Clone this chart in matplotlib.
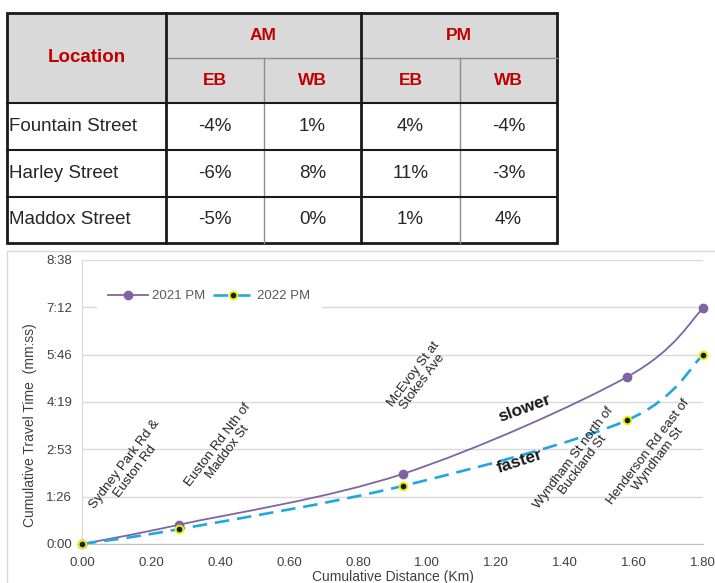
import numpy as np
import matplotlib
matplotlib.use('Agg')
import matplotlib.pyplot as plt
from matplotlib.path import Path
from matplotlib.patches import PathPatch, Rectangle
from matplotlib.lines import Line2D
from matplotlib.ticker import FuncFormatter, MultipleLocator

plt.rcParams['font.family'] = ['Liberation Sans', 'DejaVu Sans']

# table data
locations = ['Fountain Street', 'Harley Street', 'Maddox Street']
periods = ['AM', 'PM']
directions = ['EB', 'WB']
am_eb = [-4, -6, -5]
am_wb = [1, 8, 0]
pm_eb = [4, 11, 1]
pm_wb = [-4, -3, 4]

# chart data (distance in km, cumulative time in seconds)
distance_2021 = [0.00, 0.28, 0.93, 1.58, 1.80]
time_2021 = [0, 35, 128, 305, 430]
distance_2022 = [0.00, 0.28, 0.93, 1.58, 1.80]
time_2022 = [0, 27, 106, 226, 345]
stations = ['Sydney Park Rd &\nEuston Rd', 'Euston Rd Nth of\nMaddox St',
            'McEvoy St at\nStokes Ave', 'Wyndham St north of\nBuckland St',
            'Henderson Rd east of\nWyndham St']

RED = '#C00000'
PURPLE = '#8064A2'
BLUE = '#1FA7DF'


def smooth_path(xs, ys):
    # catmull-rom style bezier through the points, like Excel's smoothed line
    pts = np.column_stack([xs, ys]).astype(float)
    n = len(pts)
    verts = [pts[0]]
    codes = [Path.MOVETO]
    for i in range(n - 1):
        p0 = pts[max(i - 1, 0)]
        p1 = pts[i]
        p2 = pts[i + 1]
        p3 = pts[min(i + 2, n - 1)]
        verts += [p1 + (p2 - p0) / 6, p2 - (p3 - p1) / 6, p2]
        codes += [Path.CURVE4] * 3
    return Path(verts, codes)


def mmss(v, pos):
    s = int(round(v))
    return f'{s // 60}:{s % 60:02d}'


fig = plt.figure(figsize=(7.15, 5.83), dpi=100)

# ---- table, drawn in pixel space ----
tax = fig.add_axes([0, 0, 1, 1])
tax.set_xlim(0, 715)
tax.set_ylim(583, 0)
tax.axis('off')

cols = [7, 166, 264, 361, 460, 557]
rows = [13, 58, 103, 150, 197, 243]

tax.add_patch(Rectangle((cols[0], rows[0]), cols[-1] - cols[0], rows[2] - rows[0],
                        facecolor='#D9D9D9', edgecolor='none'))

# thin grey lines
tax.plot([cols[1], cols[-1]], [rows[1], rows[1]], color='#8C8C8C', lw=1)
for c in (cols[2], cols[4]):
    tax.plot([c, c], [rows[1], rows[-1]], color='#8C8C8C', lw=1)
# dark lines
for r in rows[2:-1]:
    tax.plot([cols[0], cols[-1]], [r, r], color='#1A1A1A', lw=1.5)
for c in (cols[1], cols[3]):
    tax.plot([c, c], [rows[0], rows[-1]], color='#1A1A1A', lw=2)
tax.add_patch(Rectangle((cols[0], rows[0]), cols[-1] - cols[0], rows[-1] - rows[0],
                        facecolor='none', edgecolor='#1A1A1A', lw=2))

tax.text((cols[0] + cols[1]) / 2, (rows[0] + rows[2]) / 2, 'Location', color=RED,
         fontsize=13.5, fontweight='bold', ha='center', va='center')
for k, p in enumerate(periods):
    x0, x1 = cols[1 + 2 * k], cols[3 + 2 * k]
    tax.text((x0 + x1) / 2, (rows[0] + rows[1]) / 2, p, color=RED,
             fontsize=12.5, fontweight='bold', ha='center', va='center')
    for j, d in enumerate(directions):
        c = 1 + 2 * k + j
        tax.text((cols[c] + cols[c + 1]) / 2, (rows[1] + rows[2]) / 2, d, color=RED,
                 fontsize=12.5, fontweight='bold', ha='center', va='center')

for i, loc in enumerate(locations):
    yc = (rows[2 + i] + rows[3 + i]) / 2
    tax.text(cols[0] + 2, yc, loc, fontsize=13.5, color='#262626', ha='left', va='center')
    for c, vals in enumerate([am_eb, am_wb, pm_eb, pm_wb]):
        tax.text((cols[1 + c] + cols[2 + c]) / 2, yc, f'{vals[i]}%', fontsize=13.5,
                 color='#262626', ha='center', va='center')

# chart outer frame
tax.add_patch(Rectangle((7, 251), 720, 340, facecolor='none', edgecolor='#D9D9D9', lw=1))

# ---- chart ----
ax = fig.add_axes([82 / 715, 39 / 583, 621 / 715, 284 / 583])
ax.set_facecolor('none')
ax.set_xlim(0, 1.8)
ax.set_ylim(0, 518.4)
ax.xaxis.set_major_locator(MultipleLocator(0.2))
ax.xaxis.set_major_formatter(FuncFormatter(lambda v, p: f'{v:.2f}'))
ax.yaxis.set_major_locator(MultipleLocator(86.4))
ax.yaxis.set_major_formatter(FuncFormatter(mmss))
ax.yaxis.grid(True, color='#D9D9D9', lw=1)
ax.set_axisbelow(True)
ax.tick_params(length=0, labelsize=9.5, labelcolor='#404040')
ax.tick_params(axis='x', pad=9)
ax.tick_params(axis='y', pad=7)
for s in ('top', 'right'):
    ax.spines[s].set_visible(False)
ax.spines['left'].set_color('#D9D9D9')
ax.spines['bottom'].set_color('#BFBFBF')

ax.add_patch(PathPatch(smooth_path(distance_2021, time_2021), fill=False,
                       edgecolor=PURPLE, lw=1.3, zorder=3))
ax.add_patch(PathPatch(smooth_path(distance_2022, time_2022), fill=False,
                       edgecolor=BLUE, lw=1.9, linestyle=(0, (5.5, 3)), zorder=3))
ax.plot(distance_2021, time_2021, linestyle='none', marker='o', ms=6,
        color=PURPLE, zorder=4, clip_on=False)
ax.plot(distance_2022, time_2022, linestyle='none', marker='o', ms=5.5,
        markerfacecolor='#14202E', markeredgecolor='#F0F000', mew=1.4, zorder=5, clip_on=False)

ax.set_xlabel('Cumulative Distance (Km)', fontsize=10, color='#404040')
ax.xaxis.set_label_coords(0.5, -0.116)
ax.xaxis.label.set_va('center')
ax.set_ylabel('Cumulative Travel Time  (mm:ss)', fontsize=10, color='#404040')
ax.yaxis.set_label_coords(-0.084, 0.42)
ax.yaxis.label.set_va('center')

# station labels
label_pos = [(0.139, 139), (0.409, 175), (0.974, 303), (1.438, 150), (1.655, 162)]
for name, (lx, ly) in zip(stations, label_pos):
    ax.text(lx, ly, name, rotation=53, rotation_mode='anchor', ha='center', va='center',
            multialignment='center', fontsize=9.5, color='#262626', linespacing=1.0)

ax.text(1.284, 248, 'slower', rotation=20, rotation_mode='anchor', ha='center', va='center',
        fontsize=12.5, fontweight='bold', color='#1A1A1A')
ax.text(1.27, 150, 'faster', rotation=18, rotation_mode='anchor', ha='center', va='center',
        fontsize=12.5, fontweight='bold', color='#1A1A1A')

handles = [
    Line2D([], [], color=PURPLE, lw=1.3, marker='o', ms=6),
    Line2D([], [], color=BLUE, lw=1.9, linestyle=(0, (5.5, 3)), marker='o', ms=5.5,
           markerfacecolor='#14202E', markeredgecolor='#F0F000', mew=1.4),
]
leg = ax.legend(handles, ['2021 PM', '2022 PM'], loc='center left',
                bbox_to_anchor=((90 - 82) / 621, 0.873), ncol=2, frameon=True,
                fontsize=9.5, handlelength=3.0, handletextpad=0.3, columnspacing=0.6,
                borderpad=0.9, fancybox=False)
leg.get_frame().set_facecolor('white')
leg.get_frame().set_edgecolor('none')
leg.get_frame().set_alpha(1)
for t in leg.get_texts():
    t.set_color('#595959')

fig.savefig('out.png', dpi=100, facecolor='white')
